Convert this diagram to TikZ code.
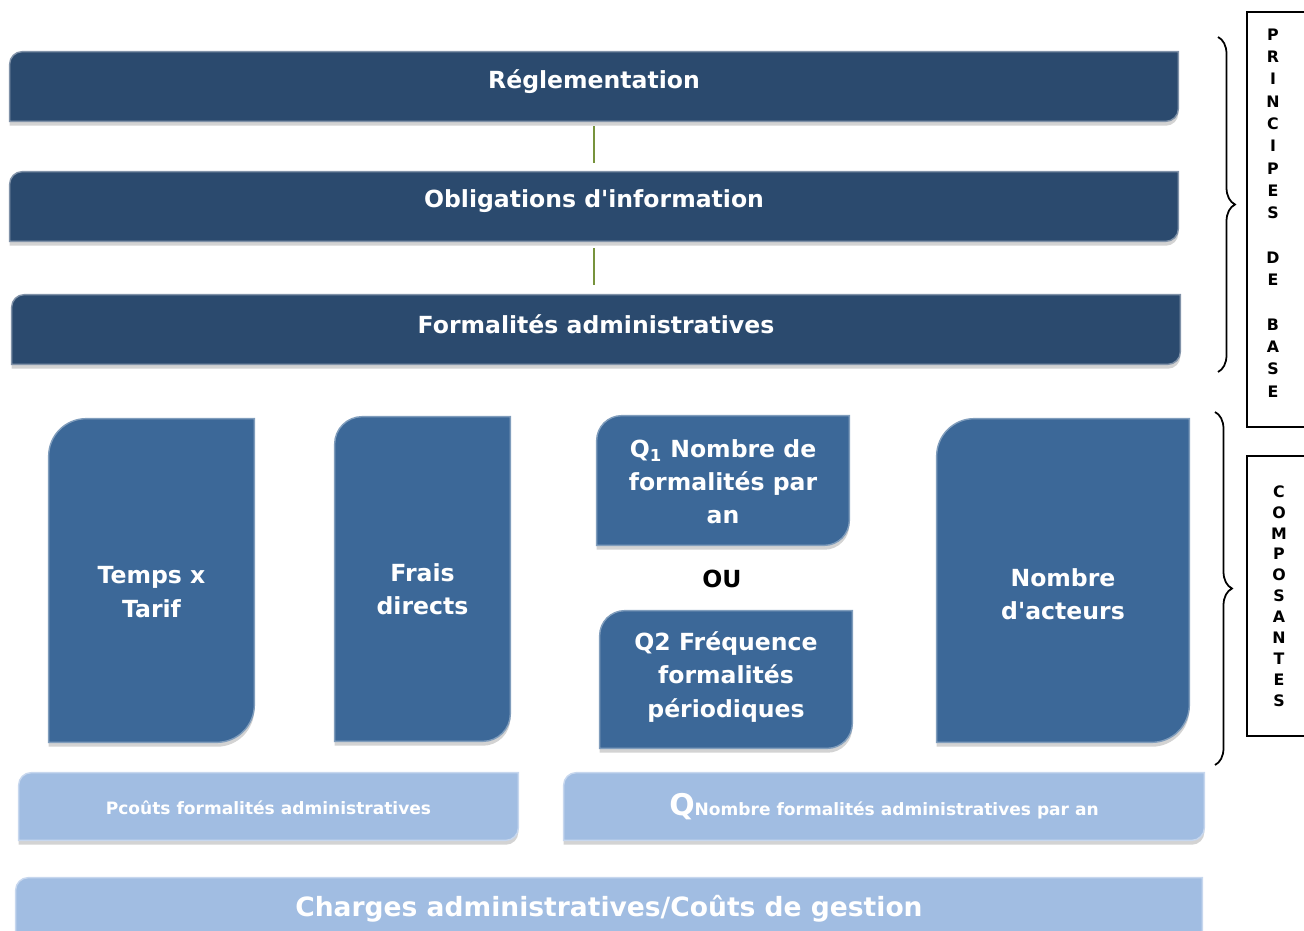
\documentclass[tikz,border=0pt]{standalone}
\usepackage{fontspec}
\setmainfont{DejaVu Sans}[Ligatures=TeXOff]
\usetikzlibrary{calc,shadows,decorations.pathreplacing}
\pgfdeclarelayer{background}
\pgfsetlayers{background,main}

\definecolor{navy}{HTML}{2B4A6E}
\definecolor{midblue}{HTML}{3C6898}
\definecolor{paleblue}{HTML}{A1BDE2}
\definecolor{olive}{HTML}{77933C}

% tab with round top left and bottom right corners
\newcommand\tabshape[3]{%
  \path[#3] ($(#1.north west)+(0,-#2)$) arc[start angle=180,end angle=90,radius=#2]
    -- (#1.north east) -- ($(#1.south east)+(0,#2)$)
    arc[start angle=0,end angle=-90,radius=#2] -- (#1.south west) -- cycle;}

\tikzset{
  slab/.style 2 args={minimum width=#1cm, minimum height=#2cm, inner sep=0pt},
  bevel/.style={line width=0.8pt, drop shadow={shadow xshift=0pt,shadow yshift=-2.5pt,opacity=0.35}},
  darkfill/.style={bevel, fill=navy, draw=navy!60!white},
  midfill/.style={bevel, fill=midblue, draw=midblue!65!white},
  palefill/.style={bevel, fill=paleblue, draw=paleblue!60!white},
  lbl/.style={text=white, align=center, font=\bfseries\fontsize{13.4}{18.9}\selectfont},
  small/.style={text=white, font=\bfseries\fontsize{9.7}{12}\selectfont},
  big/.style={text=white, font=\bfseries\fontsize{15.1}{18}\selectfont},
  sidebox/.style={draw, line width=0.8pt, inner sep=0pt},
  letters/.style={align=center, font=\bfseries\fontsize{9}{#1}\selectfont},
  link/.style={olive, line width=1pt},
  bracket/.style={decorate, decoration={brace, amplitude=0.34cm}, line width=1pt}
}

\begin{document}
\begin{tikzpicture}
  \clip (0,0) rectangle (26.08,-18.62);

  % principes de base
  \node[slab={23.36}{1.38}, label={[lbl,yshift=0.1cm]center:Réglementation}] (R1) at (11.88,-1.73) {};
  \node[slab={23.36}{1.38}, label={[lbl,yshift=0.1cm]center:Obligations d'information}] (R2) at (11.88,-4.13) {};
  \node[slab={23.36}{1.38}, label={[lbl,yshift=0.1cm]center:Formalités administratives}] (R3) at (11.92,-6.59) {};
  \draw[link, shorten <=0.1cm, shorten >=0.18cm] (R1.south) -- (R2.north);
  \draw[link, shorten <=0.14cm, shorten >=0.2cm] (R2.south) -- (R2.south |- R3.north);

  % composantes
  \node[slab={4.10}{6.46}, label={[lbl,yshift=-0.23cm]center:{Temps x\\Tarif}}] (T) at (3.03,-11.61) {};
  \node[slab={3.50}{6.48}, label={[lbl,yshift=-0.20cm]center:{Frais\\directs}}] (F) at (8.45,-11.58) {};
  \node[slab={5.04}{2.58}, label={[lbl,yshift=-0.03cm]center:{Q\textsubscript{1} Nombre de\\formalités par\\an}}] (Q1) at (14.46,-9.61) {};
  \node[lbl, text=black] (OU) at (14.44,-11.58) {OU};
  \node[slab={5.04}{2.74}, label={[lbl,yshift=0.05cm]center:{Q2 Fréquence\\formalités\\périodiques}}] (Q2) at (14.52,-13.59) {};
  \node[slab={5.04}{6.46}, label={[lbl,yshift=-0.27cm]center:{Nombre\\d'acteurs}}] (N) at (21.26,-11.61) {};

  % P et Q
  \node[slab={9.98}{1.34}, label={[small,yshift=-0.03cm]center:Pcoûts formalités administratives}] (P) at (5.37,-16.13) {};
  \node[slab={12.80}{1.34}, label={[small]center:{{\fontsize{17}{17}\selectfont Q}Nombre formalités administratives par an}}] (Q) at (17.68,-16.13) {};
  \node[slab={23.72}{1.34}, label={[big,yshift=0.05cm]center:Charges administratives/Coûts de gestion}] (C) at (12.18,-18.23) {};

  \begin{pgfonlayer}{background}
    \foreach \n in {R1,R2,R3} {\tabshape{\n}{0.25cm}{darkfill}}
    \tabshape{T}{0.75cm}{midfill}
    \tabshape{F}{0.55cm}{midfill}
    \tabshape{Q1}{0.5cm}{midfill}
    \tabshape{Q2}{0.5cm}{midfill}
    \tabshape{N}{0.75cm}{midfill}
    \foreach \n in {P,Q,C} {\tabshape{\n}{0.25cm}{palefill}}
  \end{pgfonlayer}

  % accolades et legendes
  \draw[bracket] (24.36,-0.74) -- (24.36,-7.44);
  \draw[bracket] (24.30,-8.24) -- (24.30,-15.30);
  \node[sidebox, minimum width=1.56cm, minimum height=8.30cm,
    label={[letters=12.7pt, xshift=-0.26cm, yshift=0.13cm]center:{P\\R\\I\\N\\C\\I\\P\\E\\S\\[12.7pt]D\\E\\[12.7pt]B\\A\\S\\E}}] (PB) at (25.72,-4.39) {};
  \node[sidebox, minimum width=1.56cm, minimum height=5.60cm,
    label={[letters=11.9pt, xshift=-0.14cm]center:{C\\O\\M\\P\\O\\S\\A\\N\\T\\E\\S}}] (CO) at (25.72,-11.92) {};
\end{tikzpicture}
\end{document}
